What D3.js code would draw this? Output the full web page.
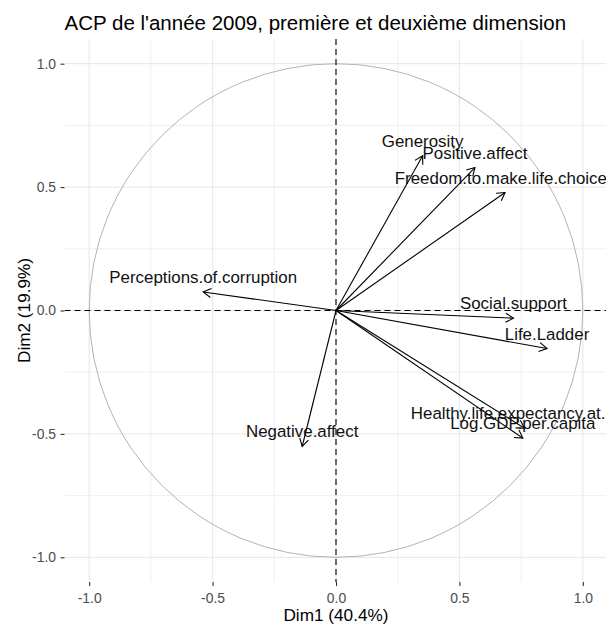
<!DOCTYPE html>
<html>
<head>
<meta charset="utf-8">
<script src="https://cdn.jsdelivr.net/npm/d3@7"></script>
<style>
  html, body { margin: 0; padding: 0; background: #fff; }
  svg { display: block; font-family: "Liberation Sans", Arial, sans-serif; }
</style>
</head>
<body>
<svg id="chart" width="606" height="626"></svg>
<script>
// Variable loadings on the first two principal components (2009)
const variables = [
  "Life.Ladder",
  "Log.GDP.per.capita",
  "Social.support",
  "Healthy.life.expectancy.at.birth",
  "Freedom.to.make.life.choices",
  "Generosity",
  "Perceptions.of.corruption",
  "Positive.affect",
  "Negative.affect"
];
const dim1 = [0.855, 0.757, 0.719, 0.764, 0.685, 0.351, -0.538, 0.563, -0.137];
const dim2 = [-0.154, -0.517, -0.031, -0.477, 0.478, 0.627, 0.075, 0.579, -0.551];

const majorTicks = [-1.0, -0.5, 0.0, 0.5, 1.0];
const minorTicks = [-0.75, -0.25, 0.25, 0.75];

const titleText = "ACP de l'année 2009, première et deuxième dimension";
const xTitle = "Dim1 (40.4%)";
const yTitle = "Dim2 (19.9%)";

const svg = d3.select("#chart");
const W = 606, H = 626;
const panel = { left: 64.5, right: 607.5, top: 39, bottom: 582 };

const x = d3.scaleLinear().domain([-1.1, 1.1]).range([panel.left, panel.right]);
const y = d3.scaleLinear().domain([-1.1, 1.1]).range([panel.bottom, panel.top]);

svg.append("rect").attr("width", W).attr("height", H).attr("fill", "#fff");

// clip region for the panel
svg.append("defs").append("clipPath").attr("id", "panelClip")
  .append("rect")
  .attr("x", panel.left).attr("y", panel.top)
  .attr("width", panel.right - panel.left)
  .attr("height", panel.bottom - panel.top);

const grid = svg.append("g").attr("clip-path", "url(#panelClip)");
// minor grid
grid.selectAll(".vminor").data(minorTicks).join("line")
  .attr("x1", d => x(d)).attr("x2", d => x(d))
  .attr("y1", panel.top).attr("y2", panel.bottom)
  .attr("stroke", "#EBEBEB").attr("stroke-width", 0.8);
grid.selectAll(".hminor").data(minorTicks).join("line")
  .attr("y1", d => y(d)).attr("y2", d => y(d))
  .attr("x1", panel.left).attr("x2", panel.right)
  .attr("stroke", "#EBEBEB").attr("stroke-width", 0.8);
// major grid
grid.selectAll(".vmajor").data(majorTicks).join("line")
  .attr("x1", d => x(d)).attr("x2", d => x(d))
  .attr("y1", panel.top).attr("y2", panel.bottom)
  .attr("stroke", "#EBEBEB").attr("stroke-width", 1.3);
grid.selectAll(".hmajor").data(majorTicks).join("line")
  .attr("y1", d => y(d)).attr("y2", d => y(d))
  .attr("x1", panel.left).attr("x2", panel.right)
  .attr("stroke", "#EBEBEB").attr("stroke-width", 1.3);

const plot = svg.append("g").attr("clip-path", "url(#panelClip)");

// correlation circle of radius 1
plot.append("circle")
  .attr("cx", x(0)).attr("cy", y(0))
  .attr("r", x(1) - x(0))
  .attr("fill", "none").attr("stroke", "#B3B3B3").attr("stroke-width", 1);

// reference lines through the origin
plot.append("line")
  .attr("x1", panel.left).attr("x2", panel.right)
  .attr("y1", y(0)).attr("y2", y(0))
  .attr("stroke", "#000").attr("stroke-width", 1.1).attr("stroke-dasharray", "6,4");
plot.append("line")
  .attr("x1", x(0)).attr("x2", x(0))
  .attr("y1", panel.top).attr("y2", panel.bottom)
  .attr("stroke", "#000").attr("stroke-width", 1.1).attr("stroke-dasharray", "6,4");

const rows = variables.map((name, i) => ({ name, d1: dim1[i], d2: dim2[i] }));

// arrows: shaft plus an open head
const headLen = 9, headAng = Math.PI / 6;
const arrows = plot.selectAll(".arrow").data(rows).join("g");
arrows.append("line")
  .attr("x1", x(0)).attr("y1", y(0))
  .attr("x2", d => x(d.d1)).attr("y2", d => y(d.d2))
  .attr("stroke", "#000").attr("stroke-width", 1.1);
arrows.append("path")
  .attr("d", d => {
    const x2 = x(d.d1), y2 = y(d.d2);
    const a = Math.atan2(y2 - y(0), x2 - x(0));
    const p1 = [x2 - headLen * Math.cos(a - headAng), y2 - headLen * Math.sin(a - headAng)];
    const p2 = [x2 - headLen * Math.cos(a + headAng), y2 - headLen * Math.sin(a + headAng)];
    return `M${p1[0]},${p1[1]}L${x2},${y2}L${p2[0]},${p2[1]}`;
  })
  .attr("fill", "none").attr("stroke", "#000").attr("stroke-width", 1.1);

// variable names just above each arrow tip
plot.selectAll(".lab").data(rows).join("text")
  .attr("x", d => x(d.d1))
  .attr("y", d => y(d.d2) - 9)
  .attr("text-anchor", "middle")
  .attr("font-size", "16.9px")
  .attr("fill", "#111")
  .text(d => d.name);

// axes
const fmt = d => d.toFixed(1);
const xAxis = svg.append("g")
  .attr("transform", `translate(0,${panel.bottom})`)
  .call(d3.axisBottom(x).tickValues(majorTicks).tickFormat(fmt).tickSize(4).tickPadding(7));
const yAxis = svg.append("g")
  .attr("transform", `translate(${panel.left},0)`)
  .call(d3.axisLeft(y).tickValues(majorTicks).tickFormat(fmt).tickSize(4).tickPadding(4.5));
[xAxis, yAxis].forEach(g => {
  g.select(".domain").remove();
  g.selectAll(".tick line").attr("stroke", "#333").attr("stroke-width", 1.1);
  g.selectAll(".tick text")
    .attr("font-size", "13.9px")
    .attr("font-family", "'Liberation Sans', Arial, sans-serif")
    .attr("fill", "#4D4D4D");
});

// titles
svg.append("text")
  .attr("x", panel.left).attr("y", 30)
  .attr("font-size", "20.5px").attr("fill", "#000")
  .text(titleText);
svg.append("text")
  .attr("x", x(0)).attr("y", 621)
  .attr("text-anchor", "middle")
  .attr("font-size", "17.2px").attr("fill", "#000")
  .text(xTitle);
svg.append("text")
  .attr("transform", `translate(30,${y(0)}) rotate(-90)`)
  .attr("text-anchor", "middle")
  .attr("font-size", "17.2px").attr("fill", "#000")
  .text(yTitle);
</script>
</body>
</html>
